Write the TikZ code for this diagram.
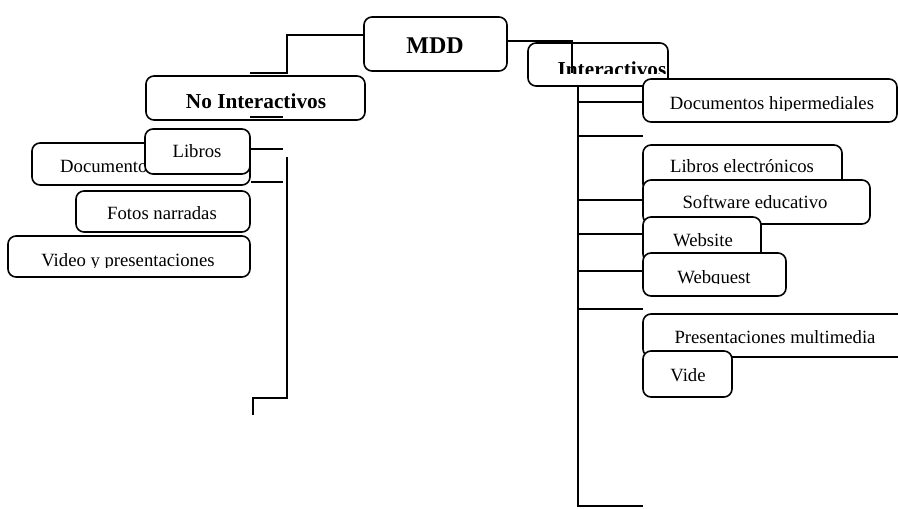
\documentclass[tikz,border=0pt]{standalone}
\usepackage{fontspec}
\setmainfont{Liberation Serif}
\tikzset{
  boxshape/.style={draw, line width=1.6pt, rounded corners=8pt, fill=white, inner sep=0pt},
  conn/.style={line width=1.6pt},
  lbl/.style={inner sep=0pt, anchor=base, font=\fontsize{18.7}{20}\selectfont},
  blbl/.style={inner sep=0pt, anchor=base, font=\fontsize{21.3}{23}\selectfont\bfseries},
}
% \mybox{name}{x1}{y1}{x2}{y2}
\newcommand\mybox[5]{\node[boxshape, minimum width={(#4)-(#2)}, minimum height={(#5)-(#3)}] (#1) at ({((#2)+(#4))/2},{((#3)+(#5))/2}) {};}
\begin{document}
\begin{tikzpicture}[x=1pt,y=-1pt]
\useasboundingbox (0,0) rectangle (898,509);

% ---------- top ----------
\mybox{mdd}{364}{17}{507}{71}
\node[inner sep=0pt, anchor=base, font=\fontsize{24}{26}\selectfont\bfseries] (tmdd) at (435,53) {MDD};

\mybox{inter}{528}{43}{668}{86}
\begin{scope}
\clip (528,43) rectangle (668,73.5);
\node[blbl] (tinter) at (612,76) {Interactivos};
\end{scope}

\mybox{noint}{146}{76}{365}{120}
\node[blbl] (tnoint) at (256,108) {No Interactivos};

% left connector from MDD
\coordinate (l1) at (287,35);
\coordinate (l2) at (287,73);
\coordinate (l3) at (250,73);
\draw[conn] (mdd.west |- l1) -- (l1) -- (l2) -- (l3);
\coordinate (u1) at (250,117);
\coordinate (u2) at (283,117);
\draw[conn] (u1) -- (u2);

% right connector from MDD
\coordinate (r1) at (572,41);
\coordinate (r2) at (572,73);
\draw[conn] (mdd.east |- r1) -- (r1) -- (r2);

% ---------- left branch ----------
\mybox{docu}{32}{143}{250}{185}
\node[lbl, anchor=base west] (tdocu) at (60,172) {Documento};
\mybox{libros}{145}{129}{250}{174}
\node[lbl] (tlibros) at (197,157) {Libros};

\mybox{fotos}{76}{191}{250}{232}
\node[lbl] (tfotos) at (162,219) {Fotos narradas};

\mybox{video}{8}{236}{250}{277}
\begin{scope}
\clip (8,236) rectangle (250,267.5);
\node[lbl] (tvideo) at (128,266) {Video y presentaciones};
\end{scope}

\coordinate (a1) at (283,149);
\coordinate (a2) at (283,182);
\draw[conn] (libros.east |- a1) -- (a1);
\draw[conn] (docu.east |- a2) -- (a2);
\coordinate (v1) at (287,157);
\coordinate (v2) at (287,398);
\coordinate (v3) at (253,398);
\coordinate (v4) at (253,415);
\draw[conn] (v1) -- (v2) -- (v3) -- (v4);

% ---------- right branch ----------
\mybox{doch}{643}{79}{897}{122}
\begin{scope}
\clip (643,79) rectangle (897,110.5);
\node[lbl] (tdoch) at (772,109) {Documentos hipermediales};
\end{scope}

\mybox{libe}{643}{145}{842}{192}
\node[lbl] (tlibe) at (742,172) {Libros electrónicos};
\mybox{soft}{643}{180}{870}{224}
\node[lbl] (tsoft) at (755,208) {Software educativo};

\mybox{web}{643}{217}{761}{262}
\node[lbl] (tweb) at (703,246) {Website};
\mybox{webq}{643}{253}{786}{296}
\begin{scope}
\clip (643,253) rectangle (786,283.5);
\node[lbl] (twebq) at (714,283) {Webquest};
\end{scope}

\mybox{pres}{643}{314}{912}{357}
\node[lbl] (tpres) at (775,343) {Presentaciones multimedia};
\mybox{vide}{643}{351}{732}{397}
\node[lbl] (tvide) at (688,381) {Vide};

% trunk
\coordinate (t0) at (578,86);
\coordinate (t1) at (578,506);
\coordinate (t2) at (643,506);
\draw[conn] (t0) -- (t1) -- (t2);
\foreach \yy in {102,136,200,234,271,309}{
  \draw[conn] (578,\yy) -- (643,\yy);
}
\end{tikzpicture}
\end{document}
